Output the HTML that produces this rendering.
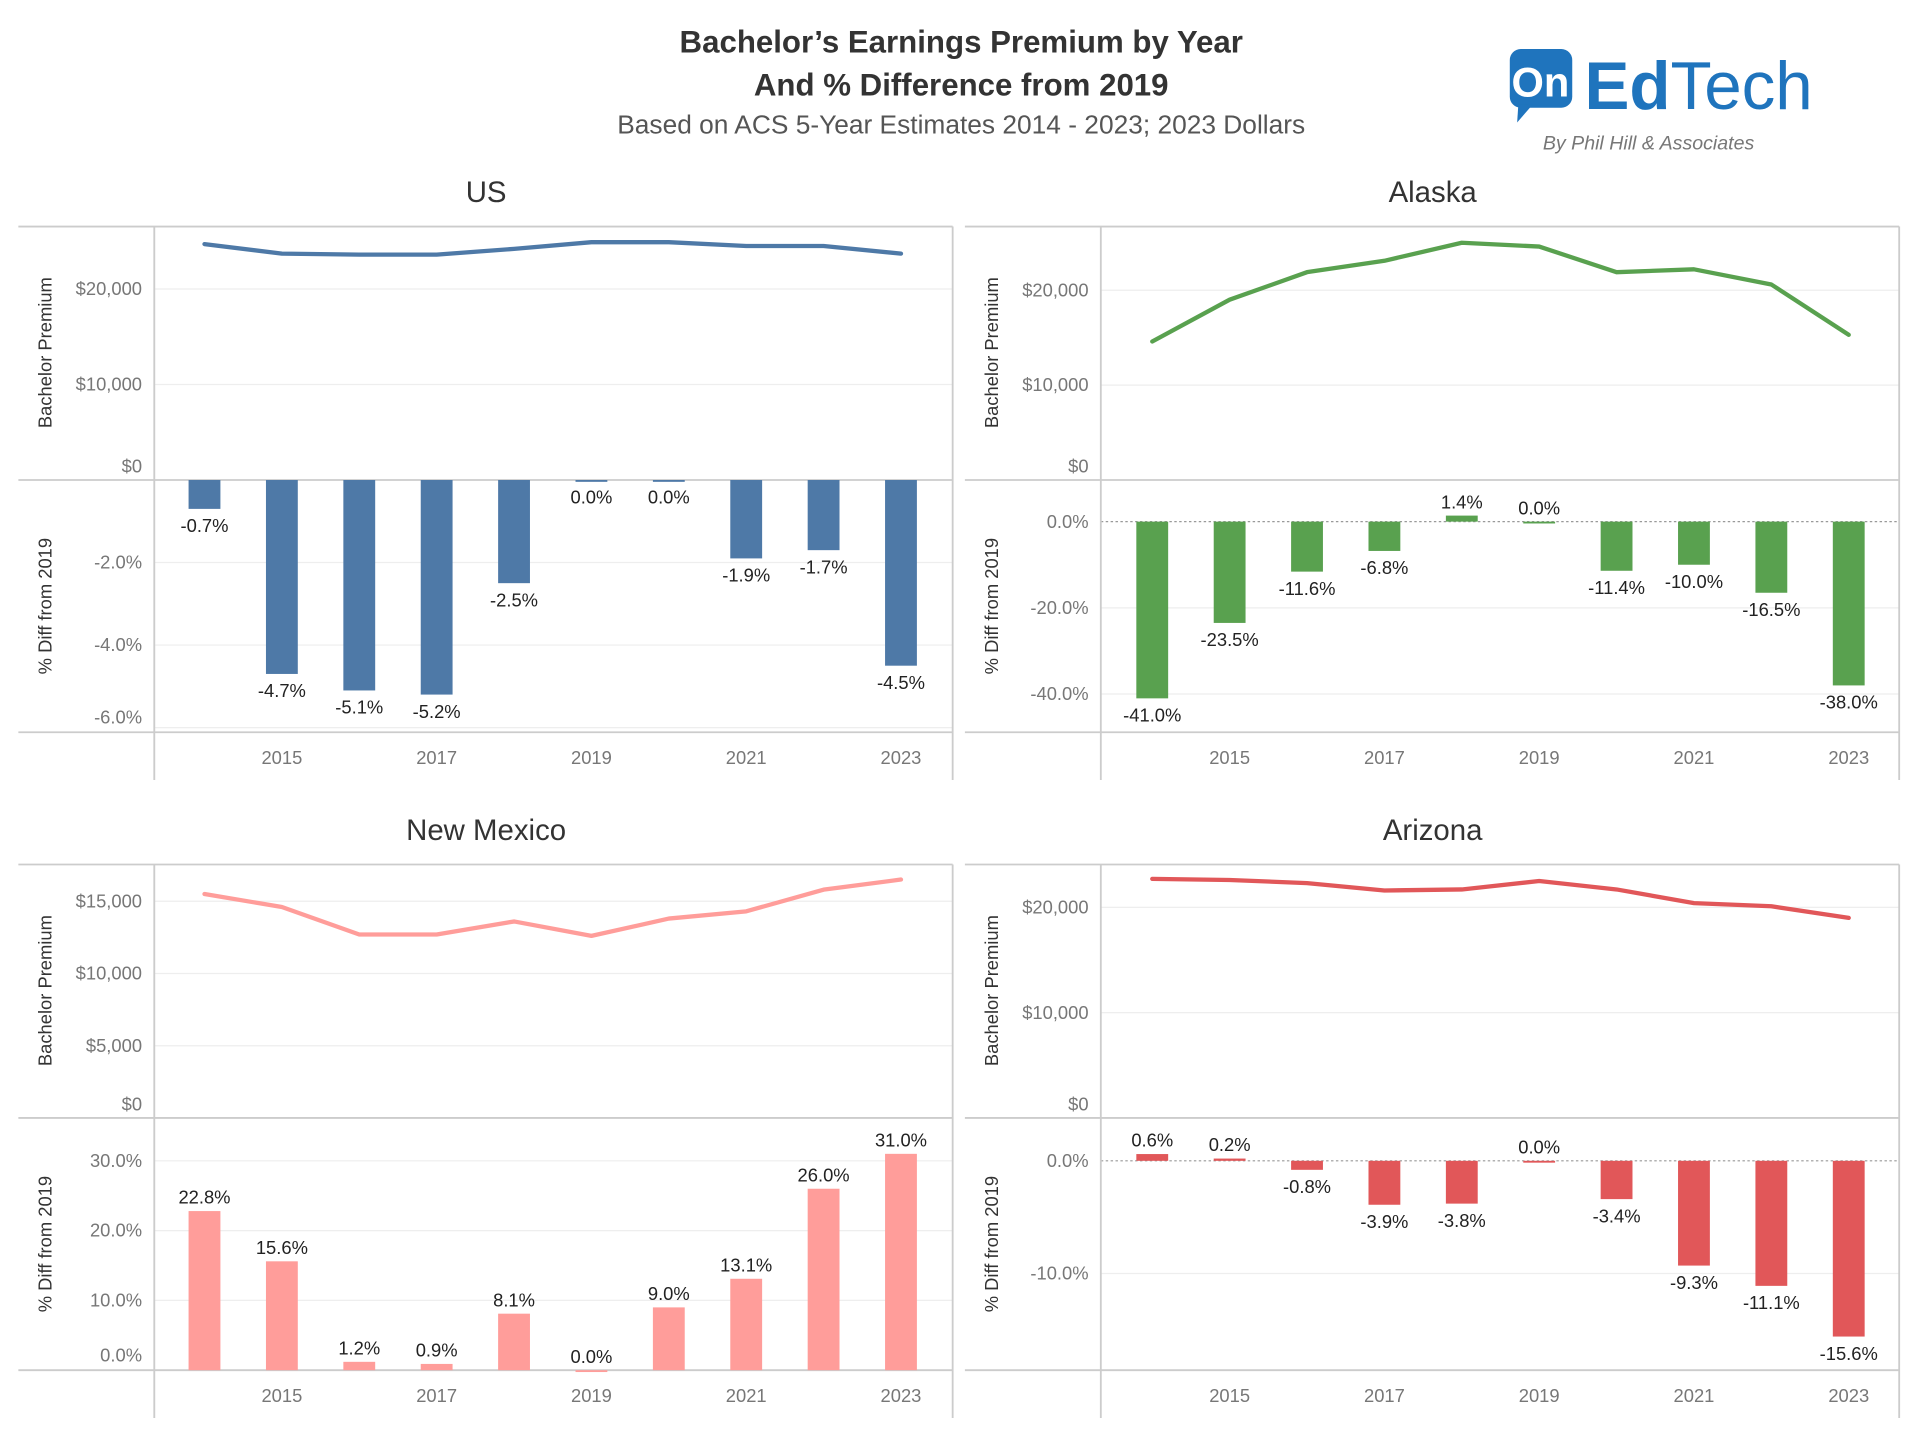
<!DOCTYPE html>
<html><head><meta charset="utf-8"><style>
html,body{margin:0;padding:0;background:#fff}
svg{display:block;font-family:"Liberation Sans",sans-serif}
</style></head><body>
<svg id="chart" width="1920" height="1440" viewBox="0 0 1568 1176" xmlns="http://www.w3.org/2000/svg">
<text x="785" y="43" text-anchor="middle" font-size="25.5" font-weight="bold" fill="#333">Bachelor’s Earnings Premium by Year</text>
<text x="785" y="78" text-anchor="middle" font-size="25.5" font-weight="bold" fill="#333">And % Difference from 2019</text>
<text x="785" y="109" text-anchor="middle" font-size="21.5" fill="#555">Based on ACS 5-Year Estimates 2014 - 2023; 2023 Dollars</text>
<g>
<rect x="1233" y="40" width="51" height="48" rx="9" fill="#1f74bd"/>
<polygon points="1240,85 1252,85 1239,100" fill="#1f74bd"/>
<text x="1258" y="79" text-anchor="middle" font-size="34" font-weight="bold" fill="#fff">On</text>
<text x="1294" y="89" font-size="55" fill="#1f74bd"><tspan font-weight="bold">Ed</tspan>Tech</text>
<text x="1260" y="122" font-size="16" font-style="italic" fill="#777">By Phil Hill &amp; Associates</text>
</g>
</svg>
<script>
const years = [2014,2015,2016,2017,2018,2019,2020,2021,2022,2023];
const usPremium = [24700,23700,23600,23600,24200,24900,24900,24500,24500,23700];
const usDiff = [-0.7,-4.7,-5.1,-5.2,-2.5,0.0,0.0,-1.9,-1.7,-4.5];
const akPremium = [14600,19000,21900,23100,25000,24600,21900,22200,20600,15300];
const akDiff = [-41.0,-23.5,-11.6,-6.8,1.4,0.0,-11.4,-10.0,-16.5,-38.0];
const nmPremium = [15500,14600,12700,12700,13600,12600,13800,14300,15800,16500];
const nmDiff = [22.8,15.6,1.2,0.9,8.1,0.0,9.0,13.1,26.0,31.0];
const azPremium = [22700,22600,22300,21600,21700,22500,21700,20400,20100,19000];
const azDiff = [0.6,0.2,-0.8,-3.9,-3.8,0.0,-3.4,-9.3,-11.1,-15.6];
const usPremTicks = [0,10000,20000];
const usDiffTicks = [-2,-4,-6];
const akPremTicks = [0,10000,20000];
const akDiffTicks = [0,-20,-40];
const nmPremTicks = [0,5000,10000,15000];
const nmDiffTicks = [0,10,20,30];
const azPremTicks = [0,10000,20000];
const azDiffTicks = [0,-10];
const yearTicks = [2015,2017,2019,2021,2023];

const svg = document.getElementById('chart');
const NS = 'http://www.w3.org/2000/svg';
function mk(tag, attrs, parent, text){
  const e = document.createElementNS(NS, tag);
  for (const k in attrs) e.setAttribute(k, attrs[k]);
  if (text !== undefined) e.textContent = text;
  parent.appendChild(e);
  return e;
}
function money(v){ return '$' + v.toLocaleString('en-US'); }

function panel(cfg){
  const g = mk('g', {}, svg);
  
  
  const L = cfg.x0, R = cfg.x0 + 763, AX = cfg.x0 + 111, T = cfg.top;
  const mid = T + 207, bot = T + 413;
  const t = mk('text', {x: cfg.x0 + 382, y: T - 20, 'text-anchor':'middle', 'font-size':24, fill:'#333'}, g, cfg.title);
  
  
  const xOf = y => cfg.x2014 + (y - 2014) * 63.2;
  const pY = v => mid - v * cfg.pScale;
  const dY = v => cfg.d0 + v * cfg.dScale * -1;
  cfg.pTicks.forEach(v => {
    if (v !== 0) mk('line', {x1:AX, x2:R, y1:pY(v), y2:pY(v), stroke:'#eee', 'stroke-width':1}, g);
    const tl = mk('text', {x:AX-10, y:(v===0? mid-6 : pY(v)+5), 'text-anchor':'end', 'font-size':15, fill:'#777'}, g, money(v));
    
    
  });
  cfg.dTicks.forEach(v => {
    if (v !== 0) mk('line', {x1:AX, x2:R, y1:dY(v), y2:dY(v), stroke:'#eee', 'stroke-width':1}, g);
    const ty = Math.min(dY(v)+5, bot-7);
    const tl = mk('text', {x:AX-10, y:ty, 'text-anchor':'end', 'font-size':15, fill:'#777'}, g, v.toFixed(1) + '%');
    
    
  });
  if (cfg.zeroDotted) mk('line', {x1:AX, x2:R, y1:cfg.d0, y2:cfg.d0, stroke:'#999', 'stroke-width':1, 'stroke-dasharray':'2,2'}, g);
  mk('line', {x1:L, x2:R, y1:T, y2:T, stroke:'#ccc', 'stroke-width':1.5}, g);
  mk('line', {x1:L, x2:R, y1:mid, y2:mid, stroke:'#ccc', 'stroke-width':1.5}, g);
  mk('line', {x1:L, x2:R, y1:bot, y2:bot, stroke:'#ccc', 'stroke-width':1.5}, g);
  mk('line', {x1:AX, x2:AX, y1:T, y2:bot+39, stroke:'#ccc', 'stroke-width':1.5}, g);
  mk('line', {x1:R, x2:R, y1:T, y2:bot+39, stroke:'#ccc', 'stroke-width':1.5}, g);
  const a1 = mk('text', {transform:`translate(${L+27},${T+103}) rotate(-90)`, 'text-anchor':'middle', 'font-size':15, fill:'#333'}, g, 'Bachelor Premium');
  
  
  const a2 = mk('text', {transform:`translate(${L+27},${T+310}) rotate(-90)`, 'text-anchor':'middle', 'font-size':15, fill:'#333'}, g, '% Diff from 2019');
  
  
  yearTicks.forEach(y => {
    const yl = mk('text', {x:xOf(y), y:bot+26, 'text-anchor':'middle', 'font-size':15, fill:'#777'}, g, String(y));
    
    
  });
  cfg.diff.forEach((v, i) => {
    const x = xOf(years[i]);
    const y0 = cfg.d0, y1 = dY(v);
    const top = Math.min(y0, y1), h = Math.max(Math.abs(y1 - y0), 1.5);
    const b = mk('rect', {x:x-13, y:top, width:26, height:h, fill:cfg.color}, g);
    
    
    const below = v < 0 || (v === 0 && cfg.zeroBelow);
    const ly = below ? y1 + 19 : y1 - 6;
    const lb = mk('text', {x:x, y:ly, 'text-anchor':'middle', 'font-size':15, fill:'#222'}, g, v.toFixed(1) + '%');
    
    
  });
  const pts = cfg.prem.map((v, i) => xOf(years[i]) + ',' + pY(v)).join(' ');
  const pl = mk('polyline', {points:pts, fill:'none', stroke:cfg.color, 'stroke-width':3.5, 'stroke-linejoin':'round', 'stroke-linecap':'round'}, g);
  
  
}

panel({id:'us', title:'US', x0:15, top:185, x2014:167, color:'#4e79a7', prem:usPremium, diff:usDiff,
  pTicks:usPremTicks, dTicks:usDiffTicks, pScale:0.0078, d0:392, dScale:33.7, zeroDotted:false, zeroBelow:true});
panel({id:'alaska', title:'Alaska', x0:788, top:185, x2014:941, color:'#59a14f', prem:akPremium, diff:akDiff,
  pTicks:akPremTicks, dTicks:akDiffTicks, pScale:0.00775, d0:426, dScale:3.52, zeroDotted:true, zeroBelow:false});
panel({id:'new-mexico', title:'New Mexico', x0:15, top:706, x2014:167, color:'#ff9d9a', prem:nmPremium, diff:nmDiff,
  pTicks:nmPremTicks, dTicks:nmDiffTicks, pScale:0.0118, d0:1119, dScale:5.7, zeroDotted:false, zeroBelow:false});
panel({id:'arizona', title:'Arizona', x0:788, top:706, x2014:941, color:'#e15759', prem:azPremium, diff:azDiff,
  pTicks:azPremTicks, dTicks:azDiffTicks, pScale:0.0086, d0:948, dScale:9.2, zeroDotted:true, zeroBelow:false});
</script>
</body></html>
